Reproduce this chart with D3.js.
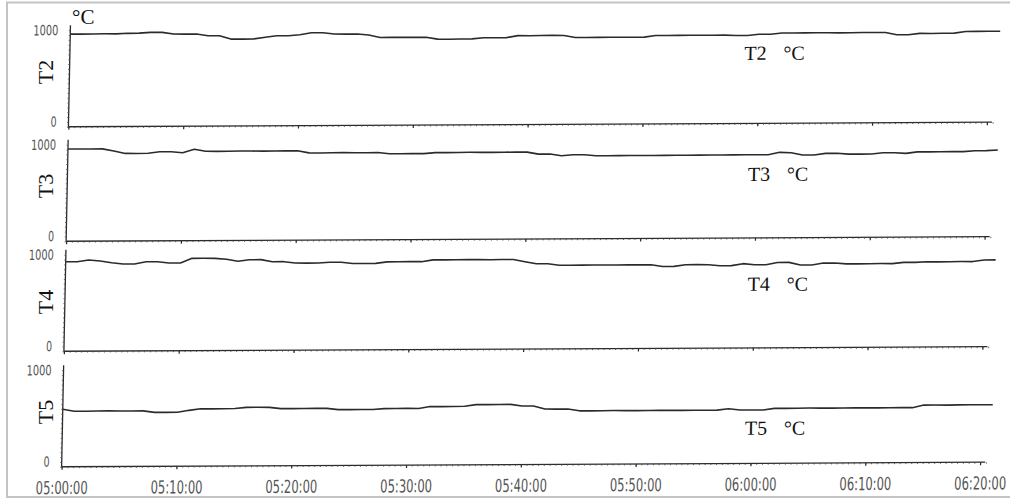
<!DOCTYPE html>
<html><head><meta charset="utf-8">
<script src="https://cdn.jsdelivr.net/npm/d3@7"></script>
<style>html,body{margin:0;padding:0;background:#fff;} svg{display:block;}</style>
</head><body>
<svg id="chart" width="1010" height="502"></svg>
<script>
// ---------------- DATA ----------------
const times = [
 "05:00","05:01","05:02","05:03","05:04","05:05","05:06","05:07","05:08","05:09",
 "05:10","05:11","05:12","05:13","05:14","05:15","05:16","05:17","05:18","05:19",
 "05:20","05:21","05:22","05:23","05:24","05:25","05:26","05:27","05:28","05:29",
 "05:30","05:31","05:32","05:33","05:34","05:35","05:36","05:37","05:38","05:39",
 "05:40","05:41","05:42","05:43","05:44","05:45","05:46","05:47","05:48","05:49",
 "05:50","05:51","05:52","05:53","05:54","05:55","05:56","05:57","05:58","05:59",
 "06:00","06:01","06:02","06:03","06:04","06:05","06:06","06:07","06:08","06:09",
 "06:10","06:11","06:12","06:13","06:14","06:15","06:16","06:17","06:18","06:19",
 "06:20","06:21"];
const xTickLabels = ["05:00:00","05:10:00","05:20:00","05:30:00","05:40:00","05:50:00","06:00:00","06:10:00","06:20:00"];
const yTickValues = [0, 1000];
const seriesNames = ["T2","T3","T4","T5"];
const unit = "°C";

const t2Values = [
 960,959,960,961,960, 965,966, 974,973, 955,954,955, 936,935, 900,899,901, 917, 932,931,
 942, 962,961, 947,946,947, 935, 909,910,909,908,909, 889,888,889,890, 901,900,901,
 921,920,921,922,921, 899,898,899,900,899,898,899, 916,915,916,917,916,915,916,
 911,911, 923,923, 935,934,935,936,935,934,935,936,935,935, 911,911, 924,923,924,925,
 942,942,943,942];
const t3Values = [
 955,955,954,955, 932, 907,906,907, 922,922, 911, 946,
 925,924,925,926,925,924,925,925,926, 903,902,903,904,903,902,903, 890,889,890,890,
 900,899,900,901,900,899,900,901,900, 879,879, 861, 870,870,
 859,858,859,860,859,858,859,860,859,860,861,860,861,862,861,860,
 885,880, 856,856, 872,872, 863,862,863, 875,875, 868, 883,882,883,884,883, 892,892, 898];
const t4Values = [
 927,927, 944, 933, 915, 901,901, 923,923, 909,909, 956,956,955, 945, 923, 939,939,
 917,917, 902,901,902, 908,908, 895,894,895, 910,910,911,910, 928,927,928,929,928,927,928,928,
 904, 882,882, 866,865,866,867,866,865,866,866,867, 848,848, 865,865,864, 853,853, 873,
 861,861, 884,884, 856,856, 875,875, 866,865,866,867,866, 878,878, 883,882,883,884,883,
 899,899];
const t5Values = [
 595, 575,574,575,576,575,574,575, 559,558,559, 578, 593,592,593,594, 606,606,605,
 591,590,591,592,591, 578,577,578,578, 586,586,587,586, 605,604,605,606, 623,622,623,623,
 606,606, 573,572,573, 553,552,553,554,553,552,553,554,553,552,553,553,553, 567,
 553,553,553, 569,568,569,570,569,568,569,570,569,568,569,570,569, 595,595,594,595,596,595,595];

// ---------------- LAYOUT ----------------
const svg = d3.select("#chart");
const seriesValues = [t2Values, t3Values, t4Values, t5Values];
const panels = [
  {top: 28,    bottom: 124.5, lx: 740, ly: 61,  tx: 45, ty: 72},
  {top: 142.5, bottom: 239,   lx: 746, ly: 182, tx: 45, ty: 186},
  {top: 252.5, bottom: 349,   lx: 748, ly: 292, tx: 45, ty: 302},
  {top: 368,   bottom: 464.5, lx: 748, ly: 436, tx: 45, ty: 412}
];

// light frame of the scanned figure
svg.append("rect").attr("x", 7).attr("y", 2.5).attr("width", 1012).attr("height", 494.5)
  .attr("fill", "none").attr("stroke", "#c4c4c4").attr("stroke-width", 2);

// the scan is slightly sheared / rotated
const g = svg.append("g").attr("transform", "matrix(1,-0.0049,-0.02,1,5.4,2.55)");

const parseT = d3.timeParse("%H:%M");
const parseTick = d3.timeParse("%H:%M:%S");
const dates = times.map(parseT);
const tickDates = xTickLabels.map(parseTick);
const x = d3.scaleTime().domain([tickDates[0], tickDates[tickDates.length - 1]]).range([65.5, 984]);
const minorTicks = d3.timeSecond.every(30).range(tickDates[0], d3.timeMinute.offset(tickDates[tickDates.length - 1], 1));

const numFont = "'DejaVu Sans Condensed','Liberation Sans',sans-serif";
const serif = "'Liberation Serif','DejaVu Serif',serif";
const ink = "#2b2b2b";

// squeeze a text horizontally to a given width (narrow printer digits)
function squeeze(sel, width, ty) {
  sel.each(function(d) {
    const t = d3.select(this);
    const len = this.getComputedTextLength();
    const w = typeof width === "function" ? width(d) : width;
    const yy = typeof ty === "function" ? ty(d) : ty;
    const tx = +t.attr("x") || 0;
    t.attr("x", 0).attr("y", 0)
     .attr("transform", `translate(${tx},${yy}) scale(${w / len},1)`);
  });
}

panels.forEach((p, i) => {
  const y = d3.scaleLinear().domain([0, 1000]).range([p.bottom, p.top]);
  const pg = g.append("g");

  // y axis line
  pg.append("line").attr("x1", x.range()[0]).attr("x2", x.range()[0])
    .attr("y1", p.top - 5).attr("y2", p.bottom)
    .attr("stroke", ink).attr("stroke-width", 1.3);
  // minor y ticks
  const ym = pg.append("g").attr("transform", `translate(${x.range()[0]},0)`)
    .call(d3.axisLeft(y).tickValues(d3.range(0, 1001, 50)).tickSize(1.5).tickFormat(""));
  ym.select(".domain").remove();
  ym.selectAll(".tick line").attr("stroke", "#555").attr("stroke-width", 0.8);
  // y labels
  const ya = pg.append("g").attr("transform", `translate(${x.range()[0]},0)`)
    .call(d3.axisLeft(y).tickValues(yTickValues).tickSize(0).tickPadding(12).tickFormat(d3.format("d")));
  ya.select(".domain").remove();
  ya.selectAll(".tick text")
    .attr("font-family", numFont).attr("font-size", 14).attr("fill", "#555");
  squeeze(ya.selectAll(".tick text"), d => d === 1000 ? 25 : 6, d => d === 0 ? -5 : 0);

  // x baseline
  pg.append("line").attr("x1", x.range()[0]).attr("x2", x.range()[1] + 5)
    .attr("y1", p.bottom).attr("y2", p.bottom)
    .attr("stroke", ink).attr("stroke-width", 1.3);
  // minor x ticks
  const xm = pg.append("g").attr("transform", `translate(0,${p.bottom})`)
    .call(d3.axisBottom(x).tickValues(minorTicks).tickSize(1.5).tickFormat(""));
  xm.select(".domain").remove();
  xm.selectAll(".tick line").attr("stroke", "#444").attr("stroke-width", 0.8);
  // major x ticks
  const isLast = i === panels.length - 1;
  const xa = pg.append("g").attr("transform", `translate(0,${p.bottom})`)
    .call(d3.axisBottom(x).tickValues(tickDates).tickSize(3)
      .tickFormat((d, k) => isLast ? xTickLabels[k] : ""));
  xa.select(".domain").remove();
  xa.selectAll(".tick line").attr("stroke", ink).attr("stroke-width", 1.2);
  if (isLast) {
    const tt = xa.selectAll(".tick text")
      .attr("font-family", numFont).attr("font-size", 18).attr("fill", "#555")
      .attr("dy", "0.35em");
    squeeze(tt, 52, 21);
  }

  // data line
  const line = d3.line().x((d, k) => x(dates[k])).y(d => y(d));
  pg.append("path").datum(seriesValues[i]).attr("d", line)
    .attr("fill", "none").attr("stroke", ink).attr("stroke-width", 1.6)
    .attr("stroke-linejoin", "round");

  // series label
  pg.append("text").attr("x", p.lx).attr("y", p.ly).text(seriesNames[i])
    .attr("font-family", serif).attr("font-size", 20).attr("fill", "#111");
  pg.append("text").attr("x", p.lx + 39).attr("y", p.ly).text(unit)
    .attr("font-family", serif).attr("font-size", 20).attr("fill", "#111");

  // rotated axis title
  svg.append("text").attr("transform", `translate(${p.tx},${p.ty}) rotate(-90)`)
    .attr("text-anchor", "middle").attr("dominant-baseline", "central")
    .attr("font-family", serif).attr("font-size", 22).attr("fill", "#111")
    .text(seriesNames[i]);
});

// unit at top-left
svg.append("text").attr("x", 72).attr("y", 24).text(unit)
  .attr("font-family", serif).attr("font-size", 21).attr("fill", "#111");
</script>
</body></html>
